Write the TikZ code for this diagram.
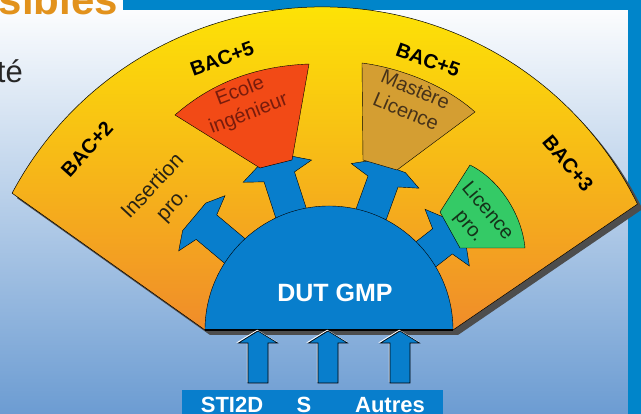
\documentclass[tikz,border=0pt]{standalone}
\usepackage{fontspec}
\setmainfont{Liberation Sans}
\definecolor{dutblue}{RGB}{8,126,204}
\definecolor{frameblue}{RGB}{0,133,202}
\definecolor{fanyellow}{RGB}{255,240,0}
\definecolor{fanmid}{RGB}{249,196,30}
\definecolor{fanorange}{RGB}{240,140,42}
\definecolor{fanshadow}{RGB}{77,77,77}
\definecolor{ecolered}{RGB}{242,74,22}
\definecolor{mastertan}{RGB}{212,158,50}
\definecolor{licgreen}{RGB}{52,202,102}
\definecolor{titleorange}{RGB}{226,146,28}
\definecolor{bgblue}{RGB}{108,156,210}
\definecolor{bgmid}{RGB}{214,225,239}
\tikzset{
  bac/.style={font=\fontsize{20}{22}\selectfont\bfseries, text=black, inner sep=0pt},
  wedgetext/.style={font=\fontsize{20}{24}\selectfont, align=center, inner sep=0pt},
  entry/.style={font=\fontsize{22}{24}\selectfont\bfseries, text=white, anchor=base, inner sep=0pt},
}
\begin{document}
\begin{tikzpicture}[x=1pt,y=1pt]
  \useasboundingbox (0,0) rectangle (641,414);
  \clip (0,0) rectangle (641,414);
  \shade[top color=white, middle color=bgmid, bottom color=bgblue] (0,0) rectangle (641,414);
  \fill[frameblue] (123,404) rectangle (641,414);
  \fill[frameblue] (628,0) rectangle (641,414);
  \node[anchor=base east, inner sep=0pt, text=titleorange,
    font=\fontsize{42}{46}\selectfont\bfseries] (titre) at (118,399) {sibles};
  \node[anchor=base east, inner sep=0pt, text=black!85,
    font=\fontsize{31}{34}\selectfont] (texte) at (23,331) {té};

  \fill[fanshadow, shift={(5,-5)}] (205,84) -- (12.1,220.8)
    arc[start angle=152, end angle=26, radius=351] -- (453,84) -- cycle;
  \shade[top color=fanyellow, middle color=fanmid, bottom color=fanorange]
    (205,84) -- (12.1,220.8) arc[start angle=152, end angle=26, radius=351]
    -- (453,84) -- cycle;
  \draw[line width=0.5pt] (205,84) -- (12.1,220.8)
    arc[start angle=152, end angle=26, radius=351] -- (453,84);

  \foreach \a/\l in {140/166,108/167,70/164,38/150}
  {
    \begin{scope}[shift={(329,84)}, rotate=\a]
      \filldraw[fill=dutblue, draw=black, line width=0.4pt]
        (100,-16) -- (\l-6,-16) -- (\l,-36) -- (\l+10,-18) -- (\l+10,18)
        -- (\l,36) -- (\l-6,16) -- (100,16) -- cycle;
    \end{scope}
  }
  \filldraw[fill=dutblue, draw=black, line width=0.4pt]
    (205,84) arc[start angle=180, end angle=0, radius=124] -- cycle;
  \draw[line width=1.2pt] (205,84) -- (453,84);
  \node[entry, font=\fontsize{25}{28}\selectfont\bfseries] (dut) at (335,112) {DUT GMP};

  \filldraw[fill=ecolered, draw=black, line width=0.4pt]
    (175,299) .. controls (215,334) and (260,348) .. (309,350)
    -- (292,254) -- (260,246) -- cycle;
  \filldraw[fill=mastertan, draw=black, line width=0.4pt]
    (362,351) .. controls (400,346) and (445,329) .. (475,302)
    -- (397,244) -- (363,254) -- cycle;
  \filldraw[fill=licgreen, draw=black, line width=0.4pt]
    (470,249) .. controls (500,234) and (522,199) .. (525,166)
    -- (460,166) -- (440,202) -- cycle;

  \node[wedgetext, rotate=21, text={rgb,255:red,120;green,28;blue,12}] (ecole)
    at (244.5,311) {Ecole\\ingénieur};
  \node[wedgetext, rotate=-23, text={rgb,255:red,70;green,50;blue,25}] (mastere)
    at (411,314) {Mastère\\Licence};
  \node[wedgetext, rotate=-50, text={rgb,255:red,20;green,50;blue,25}] (licpro)
    at (478,195) {Licence\\pro.};
  \node[wedgetext, rotate=47, text={rgb,255:red,40;green,35;blue,20},
    font=\fontsize{21}{27}\selectfont] (insertion) at (163,218) {Insertion\\pro.};

  \node[bac, rotate=48] (bacdeux) at (87,265) {BAC+2};
  \node[bac, rotate=20] (baccinqa) at (222,355) {BAC+5};
  \node[bac, rotate=-20] (baccinqb) at (428,354) {BAC+5};
  \node[bac, rotate=-50] (bactrois) at (568,251) {BAC+3};

  \foreach \x in {258,328,400}
  {
    \draw[white, line width=0.8pt, shift={(-0.8,0.8)}]
      (\x-10,31) -- (\x-10,71) -- (\x-19.5,71) -- (\x,83) -- (\x+19.5,71);
    \filldraw[fill=dutblue, draw=black, line width=0.6pt]
      (\x-10,31) -- (\x-10,71) -- (\x-19.5,71) -- (\x,83) -- (\x+19.5,71)
      -- (\x+10,71) -- (\x+10,31) -- cycle;
  }
  \fill[dutblue] (182,0) rectangle (443,24);
  \node[entry] (sti) at (232,1) {STI2D};
  \node[entry] (bacs) at (304,1) {S};
  \node[entry] (autres) at (390,1) {Autres};
\end{tikzpicture}
\end{document}
